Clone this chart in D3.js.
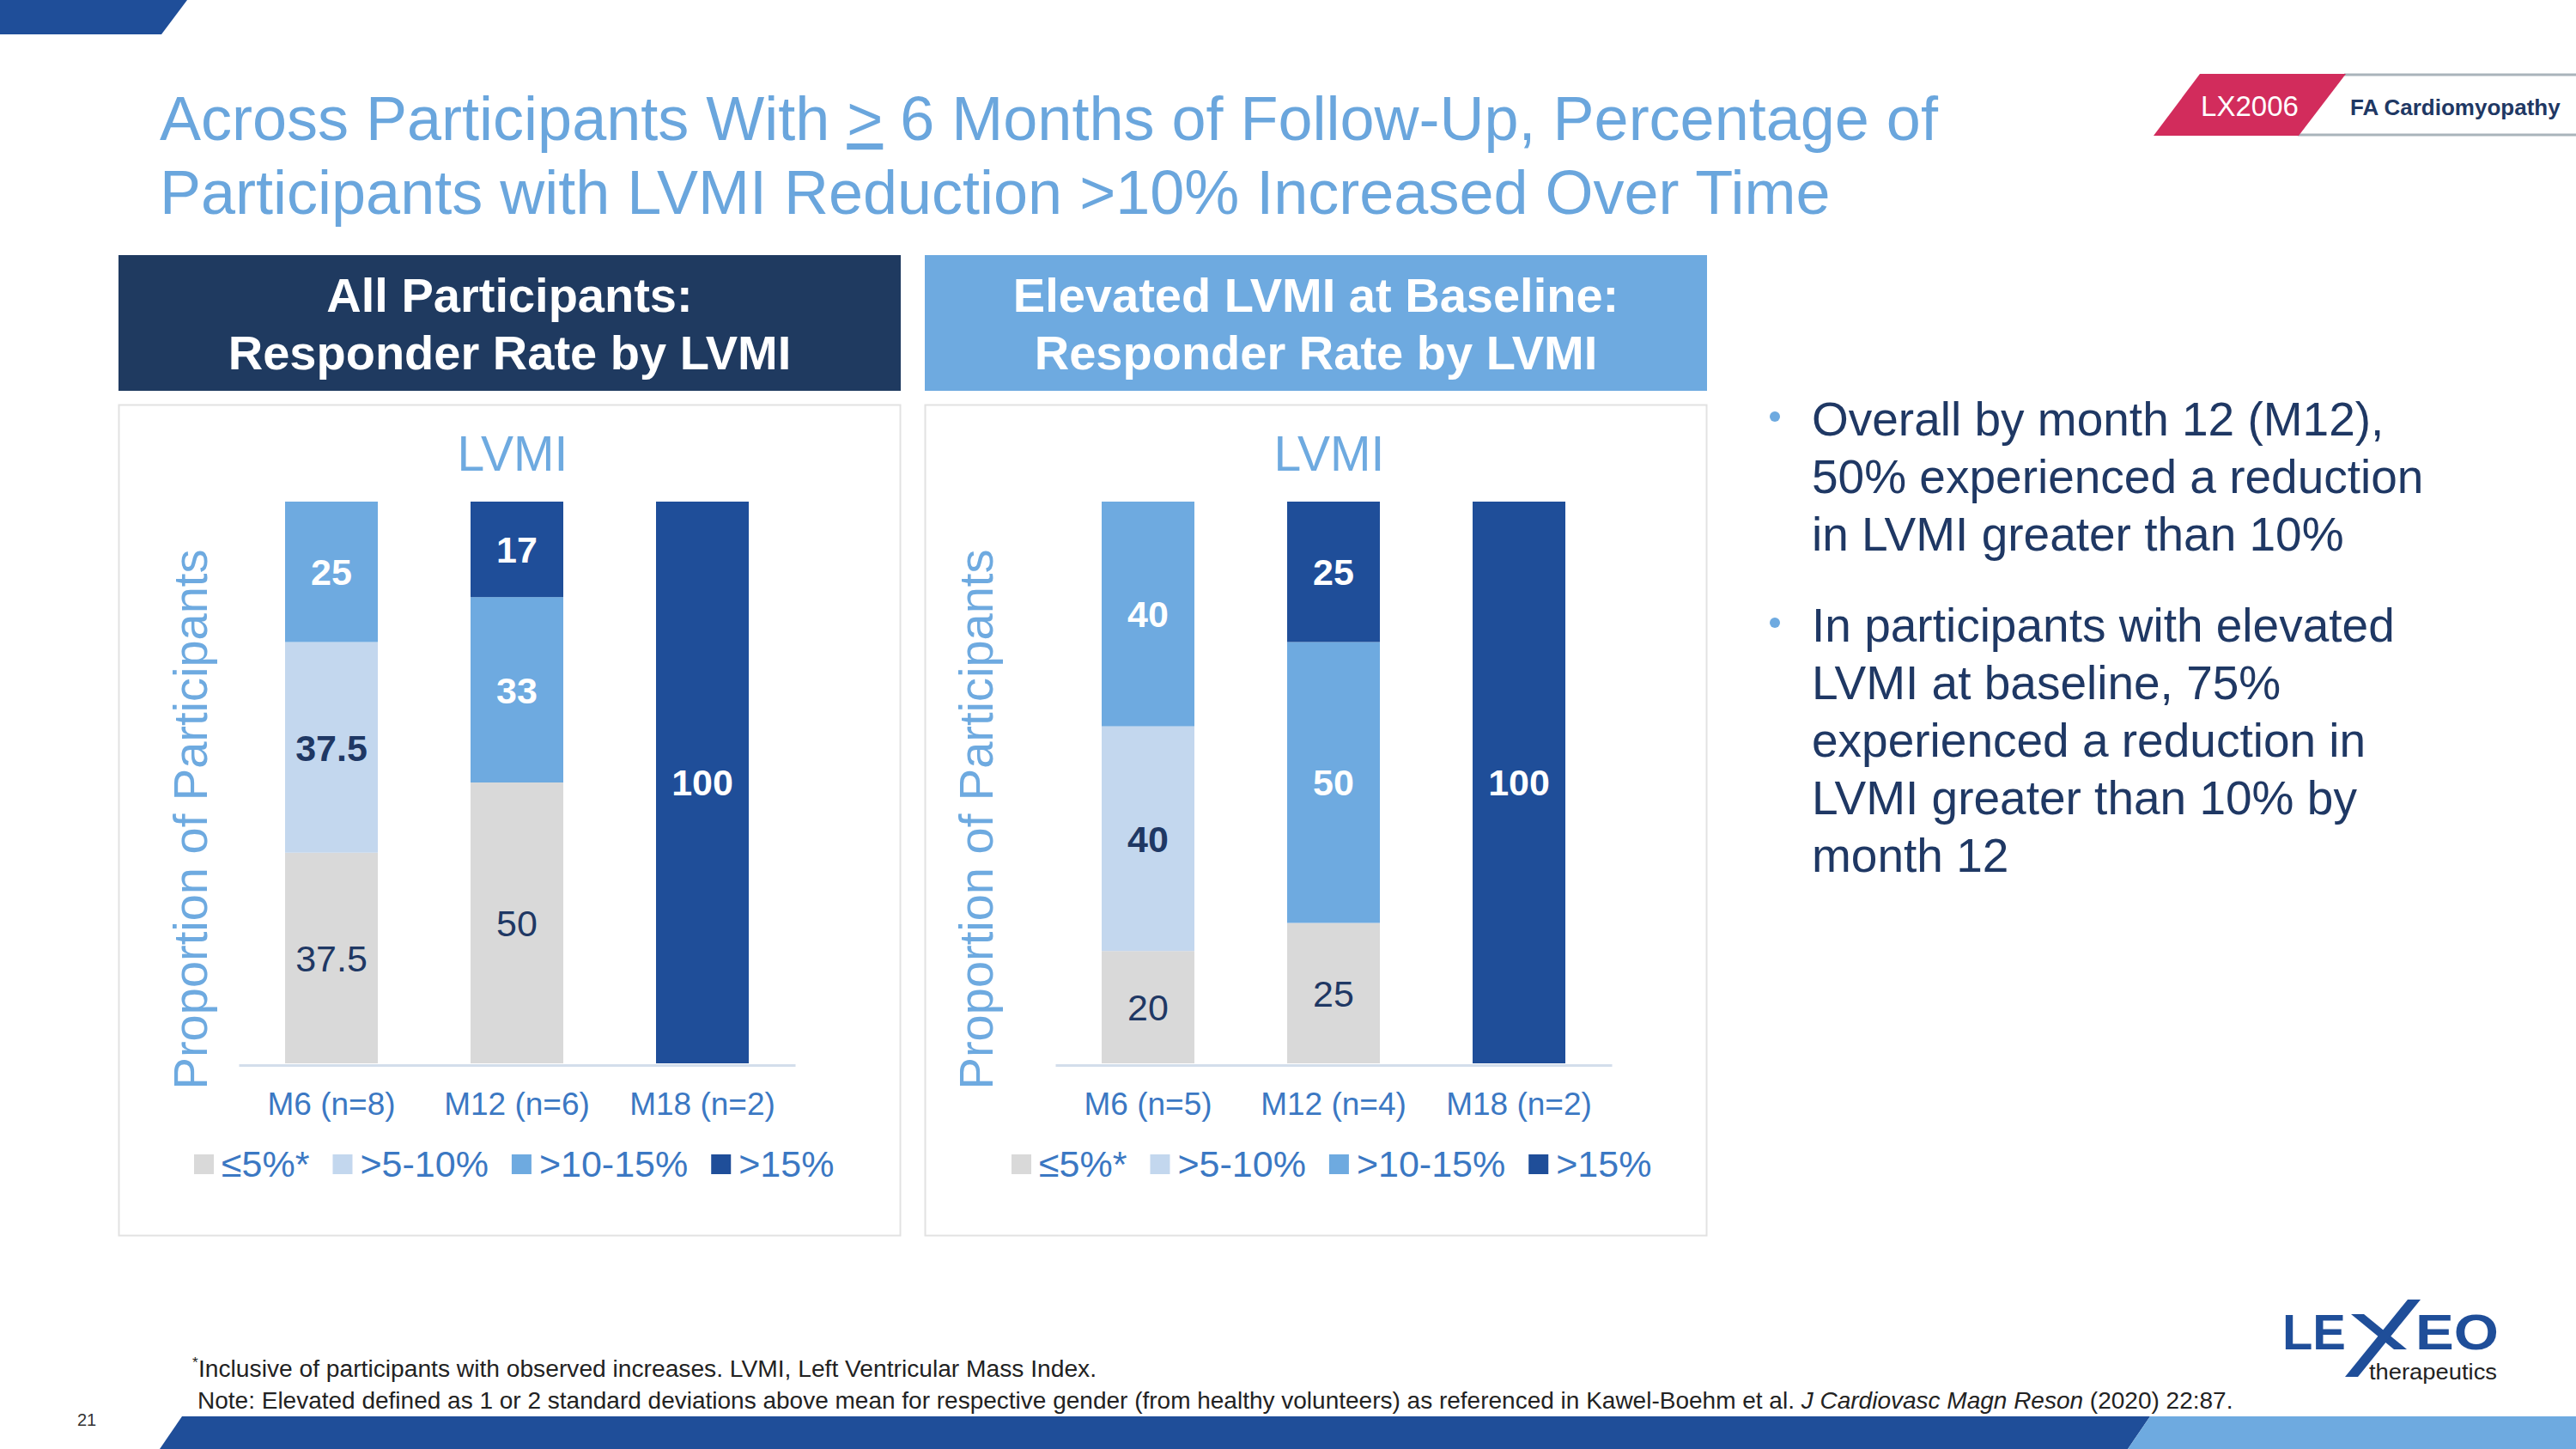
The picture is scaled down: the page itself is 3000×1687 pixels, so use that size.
<!DOCTYPE html>
<html><head><meta charset="utf-8">
<script src="https://cdn.jsdelivr.net/npm/d3@7"></script>
<style>
html,body{margin:0;padding:0;background:#fff;}
svg{display:block;font-family:"Liberation Sans",Arial,Helvetica,sans-serif;}
</style></head><body>
<svg id="chart" width="3000" height="1687"></svg>
<script>
// ---------- data ----------
const seriesKeys = ["le5", "gt5", "gt10", "gt15"];
const seriesLabels = ["≤5%*", ">5-10%", ">10-15%", ">15%"];

const allCategories = ["M6 (n=8)", "M12 (n=6)", "M18 (n=2)"];
const allLe5  = [37.5, 50, 0];
const allGt5  = [37.5, 0, 0];
const allGt10 = [25, 33, 0];
const allGt15 = [0, 17, 100];

const elevCategories = ["M6 (n=5)", "M12 (n=4)", "M18 (n=2)"];
const elevLe5  = [20, 25, 0];
const elevGt5  = [40, 0, 0];
const elevGt10 = [40, 50, 0];
const elevGt15 = [0, 25, 100];

const yDomain = [0, 100];

const titleLine1a = "Across Participants With ";
const titleLine1b = ">";
const titleLine1c = " 6 Months of Follow-Up, Percentage of";
const titleLine2 = "Participants with LVMI Reduction >10% Increased Over Time";
const header1 = ["All Participants:", "Responder Rate by LVMI"];
const header2 = ["Elevated LVMI at Baseline:", "Responder Rate by LVMI"];
const bullet1 = ["Overall by month 12 (M12),", "50% experienced a reduction", "in LVMI greater than 10%"];
const bullet2 = ["In participants with elevated", "LVMI at baseline, 75%", "experienced a reduction in", "LVMI greater than 10% by", "month 12"];

// ---------- styles ----------
const segColors = ["#d9d9d9", "#c3d7ee", "#6eaae0", "#1f4e99"];
const labelColors = ["#1f3864", "#1f3864", "#ffffff", "#ffffff"];
const labelWeights = ["normal", "bold", "bold", "bold"];
const navy = "#1f3a60";
const lightBlue = "#6eaae0";
const midBlue = "#3b78c3";
const dark = "#1f3864";

const svg = d3.select("#chart");

// ---------- slide decorations ----------
svg.append("polygon").attr("points", "0,0 218,0 188,40 0,40").attr("fill", "#1f4e99");
svg.append("polygon").attr("points", "212,1649 2504,1649 2478,1687 186,1687").attr("fill", "#1f4e99");
svg.append("polygon").attr("points", "2504,1649 3000,1649 3000,1687 2478,1687").attr("fill", "#6eaae0");

// badge
svg.append("line").attr("x1", 2730).attr("x2", 3000).attr("y1", 87).attr("y2", 87).attr("stroke", "#a9b4bb").attr("stroke-width", 3);
svg.append("line").attr("x1", 2676).attr("x2", 3000).attr("y1", 157).attr("y2", 157).attr("stroke", "#a9b4bb").attr("stroke-width", 3);
svg.append("polygon").attr("points", "2562,86 2732,86 2677,158 2508,158").attr("fill", "#d22c5c");
svg.append("text").attr("x", 2620).attr("y", 135).attr("text-anchor", "middle").attr("font-size", 33).attr("fill", "#fff").text("LX2006");
svg.append("text").attr("x", 2737).attr("y", 134).attr("font-size", 26).attr("font-weight", "bold").attr("fill", dark).text("FA Cardiomyopathy");

// title
const t1 = svg.append("text").attr("x", 186).attr("y", 163).attr("font-size", 72).attr("fill", "#6aa6dd");
t1.append("tspan").text(titleLine1a);
t1.append("tspan").attr("text-decoration", "underline").text(titleLine1b);
t1.append("tspan").text(titleLine1c);
svg.append("text").attr("x", 186).attr("y", 249).attr("font-size", 72).attr("fill", "#6aa6dd").text(titleLine2);

// headers & panels
function header(x, color, lines) {
  svg.append("rect").attr("x", x).attr("y", 297).attr("width", 911).attr("height", 158).attr("fill", color);
  svg.append("text").attr("x", x + 455.5).attr("y", 363).attr("text-anchor", "middle").attr("font-size", 56).attr("font-weight", "bold").attr("fill", "#fff").text(lines[0]);
  svg.append("text").attr("x", x + 455.5).attr("y", 430).attr("text-anchor", "middle").attr("font-size", 56).attr("font-weight", "bold").attr("fill", "#fff").text(lines[1]);
  svg.append("rect").attr("x", x + 0.5).attr("y", 471.5).attr("width", 910).attr("height", 967).attr("fill", "none").attr("stroke", "#e2e2e2").attr("stroke-width", 2);
}
header(138, navy, header1);
header(1077, lightBlue, header2);

// ---------- charts ----------
const yBase = 1238, yTop = 584;
const y = d3.scaleLinear().domain(yDomain).range([yBase, yTop]);

function drawChart(cats, cols, x0, x1, yTitleX, titleX, legendX) {
  const g = svg.append("g");
  const rows = cats.map((c, i) => {
    const r = { cat: c };
    seriesKeys.forEach((k, j) => r[k] = cols[j][i]);
    return r;
  });
  const stack = d3.stack().keys(seriesKeys)(rows);
  const x = d3.scaleBand().domain(cats).range([x0, x1]).paddingInner(0.5).paddingOuter(0.25);

  stack.forEach((layer, li) => {
    layer.forEach(d => {
      const v = d[1] - d[0];
      if (v <= 0) return;
      g.append("rect")
        .attr("x", x(d.data.cat)).attr("width", x.bandwidth())
        .attr("y", y(d[1])).attr("height", y(d[0]) - y(d[1]))
        .attr("fill", segColors[li]);
      g.append("text")
        .attr("x", x(d.data.cat) + x.bandwidth() / 2)
        .attr("y", (y(d[0]) + y(d[1])) / 2)
        .attr("dy", "0.36em")
        .attr("text-anchor", "middle")
        .attr("font-size", 43)
        .attr("font-weight", labelWeights[li])
        .attr("fill", labelColors[li])
        .text(v);
    });
  });

  const ax = g.append("g").attr("transform", `translate(0,${yBase + 2})`)
    .call(d3.axisBottom(x).tickSize(0).tickPadding(32).tickSizeOuter(0));
  ax.select(".domain").attr("stroke", "#d3deeb").attr("stroke-width", 3);
  ax.selectAll("text").attr("font-size", 37).attr("fill", midBlue).attr("font-family", "Liberation Sans, Arial, sans-serif");

  // chart title
  g.append("text").attr("x", titleX).attr("y", 548).attr("text-anchor", "middle").attr("font-size", 57).attr("fill", lightBlue).text("LVMI");

  // y-axis title
  g.append("text").attr("transform", `translate(${yTitleX},954) rotate(-90)`).attr("text-anchor", "middle")
    .attr("font-size", 56).attr("fill", lightBlue).text("Proportion of Participants");

  // legend
  let lx = legendX;
  seriesLabels.forEach((s, i) => {
    g.append("rect").attr("x", lx).attr("y", 1344).attr("width", 23).attr("height", 23).attr("fill", segColors[i]);
    const t = g.append("text").attr("x", lx + 32).attr("y", 1370).attr("font-size", 43).attr("fill", midBlue).text(s);
    lx = lx + 32 + t.node().getComputedTextLength() + 27;
  });
}

drawChart(allCategories, [allLe5, allGt5, allGt10, allGt15], 278, 926, 241, 597, 226);
drawChart(elevCategories, [elevLe5, elevGt5, elevGt10, elevGt15], 1229, 1877, 1156, 1548, 1178);

// ---------- bullets ----------
function bullets(lines, firstBaseline) {
  svg.append("circle").attr("cx", 2067).attr("cy", firstBaseline - 22).attr("r", 6).attr("fill", lightBlue);
  lines.forEach((l, i) => {
    svg.append("text").attr("x", 2110).attr("y", firstBaseline + i * 67).attr("font-size", 55).attr("fill", dark).text(l);
  });
}
bullets(bullet1, 507);
bullets(bullet2, 747);

// ---------- footnotes ----------
svg.append("text").attr("x", 224).attr("y", 1592).attr("font-size", 17).attr("fill", "#222").text("*");
svg.append("text").attr("x", 231).attr("y", 1603).attr("font-size", 28.2).attr("fill", "#222").text("Inclusive of participants with observed increases. LVMI, Left Ventricular Mass Index.");
const fn = svg.append("text").attr("x", 230).attr("y", 1640).attr("font-size", 28).attr("fill", "#222");
fn.append("tspan").text("Note: Elevated defined as 1 or 2 standard deviations above mean for respective gender (from healthy volunteers) as referenced in Kawel\u2011Boehm et al. ");
fn.append("tspan").attr("font-style", "italic").text("J Cardiovasc Magn Reson");
fn.append("tspan").text(" (2020) 22:87.");
svg.append("text").attr("x", 90).attr("y", 1660).attr("font-size", 20).attr("fill", "#333").text("21");

// ---------- logo ----------
svg.append("text").attr("x", 2658).attr("y", 1571).attr("font-size", 58).attr("font-weight", "bold").attr("fill", "#1f4e99")
  .attr("textLength", 74).attr("lengthAdjust", "spacingAndGlyphs").text("LE");
svg.append("text").attr("x", 2813).attr("y", 1571).attr("font-size", 58).attr("font-weight", "bold").attr("fill", "#1f4e99")
  .attr("textLength", 97).attr("lengthAdjust", "spacingAndGlyphs").text("EO");
svg.append("polygon").attr("points", "2738,1530 2753,1530 2803,1571 2788,1571").attr("fill", "#1f4e99");
svg.append("polygon").attr("points", "2804,1513 2819,1513 2746,1603 2731,1603").attr("fill", "#1f4e99");
svg.append("text").attr("x", 2759).attr("y", 1606).attr("font-size", 26).attr("fill", "#222")
  .attr("textLength", 149).attr("lengthAdjust", "spacingAndGlyphs").text("therapeutics");
</script>
</body></html>
